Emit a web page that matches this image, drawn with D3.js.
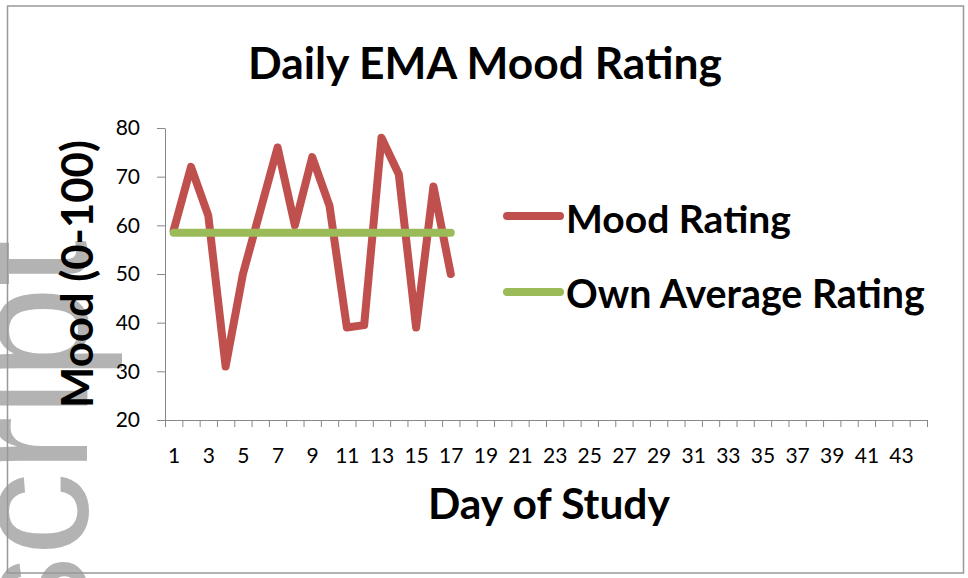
<!DOCTYPE html>
<html>
<head>
<meta charset="utf-8">
<script src="https://cdn.jsdelivr.net/npm/d3@7"></script>
<style>
  body { margin: 0; background: #fff; }
  svg { display: block; }
  text { font-family: Lato, "Open Sans", sans-serif; fill: #000; }
</style>
</head>
<body>
<div class="mainWrapper"></div>
<script>
// data
var days = [1, 2, 3, 4, 5, 6, 7, 8, 9, 10, 11, 12, 13, 14, 15, 16, 17];
var moodRating = [59, 72, 62, 31, 50, 63, 76, 60, 74, 64, 39, 39.5, 78, 70.5, 39, 68, 50];
var ownAverage = [58.5, 58.5, 58.5, 58.5, 58.5, 58.5, 58.5, 58.5, 58.5, 58.5, 58.5, 58.5, 58.5, 58.5, 58.5, 58.5, 58.5];
var dayCount = 44;
var yTicks = [20, 30, 40, 50, 60, 70, 80];
var seriesNames = ["Mood Rating", "Own Average Rating"];
var seriesColors = ["#c0504d", "#9bbb59"];

var W = 968, H = 578;

var svg = d3.select(".mainWrapper")
  .append("svg")
    .attr("width", W)
    .attr("height", H);

// scale a text's font size so it covers the wanted width
function fitText(sel, target) {
  var fs = parseFloat(sel.style("font-size"));
  var len = sel.node().getComputedTextLength();
  sel.style("font-size", (fs * target / len) + "px");
}

// grey manuscript watermark, cut by the left edge
// size it so that the visible "cript" part spans the same height as in the picture
var wmFont = "'Liberation Sans', Arial, sans-serif";
var probe = svg.append("text")
  .style("font-family", wmFont)
  .style("font-size", "100px")
  .text("cript");
var wmSize = 100 * 316 / probe.node().getComputedTextLength();
probe.remove();

svg.append("text")
  .attr("transform", "translate(87,240) rotate(-90)")
  .attr("text-anchor", "end")
  .style("font-family", wmFont)
  .style("font-size", wmSize + "px")
  .style("fill", "#b3b3b3")
  .text("Manuscript");

// chart frame
svg.append("rect")
  .attr("x", 7.5)
  .attr("y", 6)
  .attr("width", 956)
  .attr("height", 567)
  .attr("fill", "none")
  .attr("stroke", "#999")
  .attr("stroke-width", 1.5);

var x = d3.scaleLinear()
  .domain([0.5, dayCount + 0.5])
  .range([165, 927]);

var y = d3.scaleLinear()
  .domain([20, 80])
  .range([420, 128]);

// x axis: ticks between days, labels on odd days
var boundaries = d3.range(0, dayCount + 1).map(function(i) { return i + 0.5; });
var oddDays = d3.range(1, dayCount + 1, 2);

svg.append("g")
  .attr("class", "xAxis")
  .attr("transform", "translate(0,420)")
  .call(d3.axisBottom(x).tickValues(boundaries).tickFormat("").tickSize(7).tickSizeOuter(0));

var xLabelG = svg.append("g")
  .attr("transform", "translate(0,420)")
  .call(d3.axisBottom(x).tickValues(oddDays).tickFormat(d3.format("d")).tickSize(0).tickPadding(28));
xLabelG.select(".domain").remove();

svg.append("g")
  .attr("class", "yAxis")
  .attr("transform", "translate(165,0)")
  .call(d3.axisLeft(y).tickValues(yTicks).tickSize(8).tickSizeOuter(0).tickPadding(17));

svg.selectAll(".domain, .tick line").attr("stroke", "#888");
svg.selectAll(".tick text")
  .style("font-family", "Lato, sans-serif")
  .style("font-size", "21px")
  .attr("fill", "#000");

// series
var line = d3.line()
  .x(function(d) { return x(d[0]); })
  .y(function(d) { return y(d[1]); });

svg.append("path")
  .datum(d3.zip(days, moodRating))
  .attr("fill", "none")
  .attr("stroke", seriesColors[0])
  .attr("stroke-width", 8)
  .attr("stroke-linejoin", "round")
  .attr("stroke-linecap", "round")
  .attr("d", line);

svg.append("path")
  .datum(d3.zip(days, ownAverage))
  .attr("fill", "none")
  .attr("stroke", seriesColors[1])
  .attr("stroke-width", 8)
  .attr("stroke-linecap", "round")
  .attr("d", line);

// title and axis titles
var title = svg.append("text")
  .attr("x", 485)
  .attr("y", 79)
  .attr("text-anchor", "middle")
  .style("font-weight", "bold")
  .style("font-size", "36px")
  .text("Daily EMA Mood Rating");
fitText(title, 474);

var xTitle = svg.append("text")
  .attr("x", 549)
  .attr("y", 519)
  .attr("text-anchor", "middle")
  .style("font-weight", "bold")
  .style("font-size", "34px")
  .text("Day of Study");
fitText(xTitle, 242);

var yTitle = svg.append("text")
  .attr("transform", "translate(93,274) rotate(-90)")
  .attr("text-anchor", "middle")
  .style("font-weight", "bold")
  .style("font-size", "32px")
  .text("Mood (0-100)");
fitText(yTitle, 268);

// legend
var legendY = [216, 292];
var legendText = [233, 308];
var legendWidth = [225, 359];
seriesNames.forEach(function(name, i) {
  svg.append("line")
    .attr("x1", 507)
    .attr("x2", 560)
    .attr("y1", legendY[i])
    .attr("y2", legendY[i])
    .attr("stroke", seriesColors[i])
    .attr("stroke-width", 8)
    .attr("stroke-linecap", "round");
  var t = svg.append("text")
    .attr("x", 566)
    .attr("y", legendText[i])
    .style("font-weight", "bold")
    .style("font-size", "32px")
    .text(name);
  fitText(t, legendWidth[i]);
});
</script>
</body>
</html>
